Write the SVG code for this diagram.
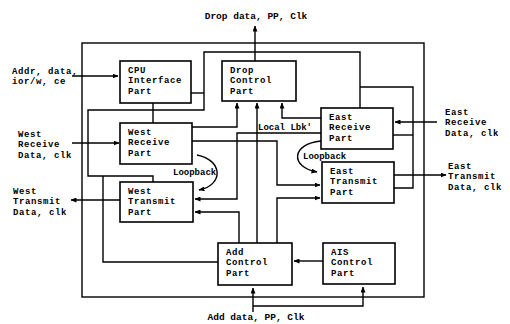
<svg xmlns="http://www.w3.org/2000/svg" width="510" height="324" viewBox="0 0 510 324">
<style>
  .box { fill: #fff; stroke: #000; stroke-width: 1.6; }
  .ln { fill: none; stroke: #000; stroke-width: 1.4; }
  .t { font-family: "Liberation Mono", "DejaVu Sans Mono", monospace; font-weight: bold; font-size: 9px; letter-spacing: 0.6px; fill: #000; }
  .s { font-family: "Liberation Mono", "DejaVu Sans Mono", monospace; font-weight: bold; font-size: 9px; fill: #000; }
  .m { font-family: "Liberation Mono", "DejaVu Sans Mono", monospace; font-weight: bold; font-size: 9.5px; fill: #000; }
</style>
<defs>
  <marker id="ar" markerUnits="userSpaceOnUse" markerWidth="6" markerHeight="5" refX="5.5" refY="2.5" orient="auto">
    <path d="M0,0 L6,2.5 L0,5 z" fill="#000"/>
  </marker>
</defs>
<rect width="510" height="324" fill="#fff"/>

<g id="connectors">
  <rect class="ln" x="82" y="43" width="342" height="254"/>
  <!-- top / bottom external -->
  <path class="ln" d="M255,61 V26" marker-end="url(#ar)"/>
  <path class="ln" d="M253,312 V288" marker-end="url(#ar)"/>
  <path class="ln" d="M253,306 H363 V287" marker-end="url(#ar)"/>
  <!-- left external -->
  <path class="ln" d="M72,76 H118" marker-end="url(#ar)"/>
  <path class="ln" d="M72,143 H119" marker-end="url(#ar)"/>
  <path class="ln" d="M120,200 H71" marker-end="url(#ar)"/>
  <!-- right external -->
  <path class="ln" d="M437,122 H395" marker-end="url(#ar)"/>
  <path class="ln" d="M394,175 H446" marker-end="url(#ar)"/>
  <!-- internal bus -->
  <path class="ln" d="M153,182 V176 H88 V110 H204 V52 H360 V108"/>
  <path class="ln" d="M103,176 V262 H218"/>
  <path class="ln" d="M191,93 H204"/>
  <path class="ln" d="M153,103 V123"/>
  <path class="ln" d="M360,87 H413 V188 H394"/>
  <path class="ln" d="M393,135 H413"/>
  <!-- to drop control -->
  <path class="ln" d="M192,127 H237 V103" marker-end="url(#ar)"/>
  <path class="ln" d="M257,243 V103" marker-end="url(#ar)"/>
  <path class="ln" d="M321,118 H282 V103" marker-end="url(#ar)"/>
  <!-- local loopback and cross paths -->
  <path class="ln" d="M321,133 H237 V199 H195" marker-end="url(#ar)"/>
  <path class="ln" d="M239,243 V212 H195" marker-end="url(#ar)"/>
  <path class="ln" d="M192,141 H277 V185 H320" marker-end="url(#ar)"/>
  <path class="ln" d="M277,243 V198 H320" marker-end="url(#ar)"/>
  <path class="ln" d="M323,261 H294" marker-end="url(#ar)"/>
  <!-- loopback arcs -->
  <path class="ln" d="M197,155 C223,160 224,185 199,190" marker-end="url(#ar)"/>
  <path class="ln" d="M321,141 C291,144 290,167 317,172" marker-end="url(#ar)"/>
  <text class="s" x="173" y="175">Loopback</text>
  <text class="s" x="303" y="159">Loopback</text>
  <text class="s" x="258" y="130">Local Lbk'</text>
</g>

<g id="labels">
  <text class="m" x="256" y="19" text-anchor="middle">Drop data, PP, Clk</text>
  <text class="m" x="256" y="320" text-anchor="middle">Add data, PP, Clk</text>
  <text class="t" x="12" y="73.5">Addr, data,</text>
  <text class="t" x="12" y="84">ior/w, ce</text>
  <text class="t" x="18" y="136.5">West</text>
  <text class="t" x="18" y="147">Receive</text>
  <text class="t" x="18" y="157.5">Data, clk</text>
  <text class="t" x="13" y="193.5">West</text>
  <text class="t" x="13" y="204">Transmit</text>
  <text class="t" x="13" y="214.5">Data, clk</text>
  <text class="t" x="445" y="114.5">East</text>
  <text class="t" x="445" y="125">Receive</text>
  <text class="t" x="445" y="135.5">Data, clk</text>
  <text class="t" x="448" y="168.5">East</text>
  <text class="t" x="448" y="179">Transmit</text>
  <text class="t" x="448" y="189.5">Data, clk</text>
</g>

<g id="cpu">
  <rect class="box" x="120" y="61" width="71" height="42"/>
  <text class="t" x="128" y="72.5">CPU</text>
  <text class="t" x="128" y="83">Interface</text>
  <text class="t" x="128" y="93.5">Part</text>
</g>
<g id="drop">
  <rect class="box" x="222" y="61" width="74" height="40"/>
  <text class="t" x="230" y="72.5">Drop</text>
  <text class="t" x="230" y="83">Control</text>
  <text class="t" x="230" y="93.5">Part</text>
</g>
<g id="westrx">
  <rect class="box" x="120" y="123" width="72" height="41"/>
  <text class="t" x="128" y="134.5">West</text>
  <text class="t" x="128" y="145">Receive</text>
  <text class="t" x="128" y="155.5">Part</text>
</g>
<g id="westtx">
  <rect class="box" x="120" y="182" width="73" height="40"/>
  <text class="t" x="128" y="193.5">West</text>
  <text class="t" x="128" y="204">Transmit</text>
  <text class="t" x="128" y="214.5">Part</text>
</g>
<g id="eastrx">
  <rect class="box" x="321" y="108" width="72" height="41"/>
  <text class="t" x="329" y="119.5">East</text>
  <text class="t" x="329" y="130">Receive</text>
  <text class="t" x="329" y="140.5">Part</text>
</g>
<g id="easttx">
  <rect class="box" x="322" y="162" width="72" height="41"/>
  <text class="t" x="330" y="173.5">East</text>
  <text class="t" x="330" y="184">Transmit</text>
  <text class="t" x="330" y="194.5">Part</text>
</g>
<g id="add">
  <rect class="box" x="218" y="243" width="74" height="42"/>
  <text class="t" x="226" y="254.5">Add</text>
  <text class="t" x="226" y="265">Control</text>
  <text class="t" x="226" y="275.5">Part</text>
</g>
<g id="ais">
  <rect class="box" x="323" y="243" width="72" height="41"/>
  <text class="t" x="331" y="254.5">AIS</text>
  <text class="t" x="331" y="265">Control</text>
  <text class="t" x="331" y="275.5">Part</text>
</g>
</svg>
